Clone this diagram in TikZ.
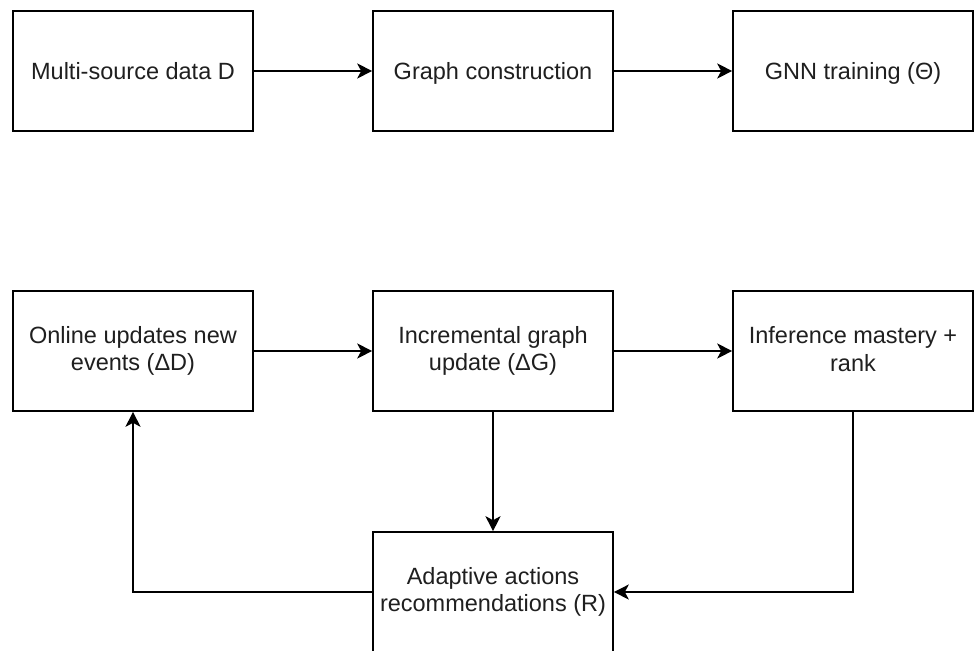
\documentclass[tikz,border=0pt]{standalone}
\usepackage{fontspec}
\setmainfont{Liberation Sans}
\usetikzlibrary{arrows.meta}
\begin{document}
\begin{tikzpicture}[x=1pt,y=1pt,
  stepbox/.style={draw=black,line width=1.6pt,fill=white,minimum width=240pt,
    minimum height=120pt,inner sep=0pt,align=center,
    font=\fontsize{23.5}{27.5}\selectfont,text=black!88,
    execute at begin node=\rule{0pt}{21pt},
    execute at end node=\rule[-4.2pt]{0pt}{4.2pt}},
  flow/.style={draw=black,line width=1.6pt,
    -{Stealth[length=15pt,width=15pt,inset=4pt]}}]
\useasboundingbox (0,0) rectangle (976,-650);
% training pipeline
\node[stepbox] (data) at (133,-71) {Multi-source data D};
\node[stepbox] (graph) at (493,-71) {Graph construction};
\node[stepbox] (gnn) at (853,-71) {GNN training (Θ)};
% online loop
\node[stepbox] (online) at (133,-351) {Online updates new\\events (ΔD)};
\node[stepbox] (incr) at (493,-351) {Incremental graph\\update (ΔG)};
\node[stepbox] (infer) at (853,-351) {Inference mastery +\\rank};
\node[stepbox] (adapt) at (493,-592) {Adaptive actions\\recommendations (R)};
\draw[flow] (data) -- (graph);
\draw[flow] (graph) -- (gnn);
\draw[flow] (online) -- (incr);
\draw[flow] (incr) -- (infer);
\draw[flow] (incr) -- (adapt);
\draw[flow] (infer.south) |- (adapt.east);
\draw[flow] (adapt.west) -| (online.south);
\end{tikzpicture}
\end{document}
